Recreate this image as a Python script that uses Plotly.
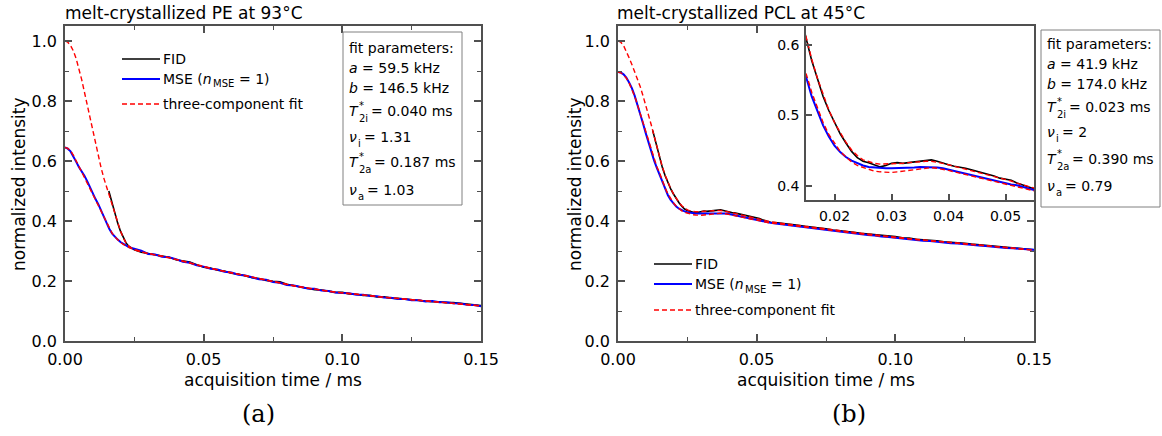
import plotly.graph_objects as go

# ---------------- data: panel (a) melt-crystallized PE ----------------
t_pe_early = [round(i * 0.001, 4) for i in range(26)]                 # 0 ... 0.025
t_pe_tail = [round(0.025 + 0.0025 * i, 4) for i in range(1, 51)]      # 0.0275 ... 0.15
t_pe = t_pe_early + t_pe_tail

pe_fit_fid_early = [1.000, 0.996, 0.985, 0.967, 0.942, 0.910, 0.872, 0.830, 0.786, 0.742,
                    0.699, 0.657, 0.616, 0.578, 0.543, 0.513, 0.484, 0.455, 0.425, 0.395,
                    0.367, 0.344, 0.327, 0.316, 0.309, 0.304]
pe_mse_early = [0.645, 0.641, 0.632, 0.617, 0.598, 0.580, 0.566, 0.551, 0.533, 0.512,
                0.493, 0.473, 0.456, 0.436, 0.413, 0.391, 0.373, 0.358, 0.347, 0.338,
                0.330, 0.324, 0.318, 0.313, 0.310, 0.307]
pe_fit_mse_early = [0.645, 0.642, 0.634, 0.620, 0.601, 0.582, 0.565, 0.548, 0.530, 0.511,
                    0.492, 0.472, 0.453, 0.433, 0.412, 0.392, 0.374, 0.359, 0.347, 0.337,
                    0.329, 0.322, 0.316, 0.312, 0.308, 0.305]
pe_fid_t_start = [0.0158]
pe_fid_early = [0.500, 0.458, 0.424, 0.393, 0.366, 0.344, 0.327, 0.316, 0.309, 0.304]  # 0.0158, 0.017..0.025

pe_fit_tail = [0.297, 0.291, 0.287, 0.283, 0.278, 0.272, 0.266, 0.260, 0.253, 0.247,
               0.242, 0.237, 0.232, 0.227, 0.222, 0.217, 0.212, 0.207, 0.203, 0.198,
               0.193, 0.188, 0.184, 0.180, 0.176, 0.173, 0.169, 0.166, 0.163, 0.161,
               0.158, 0.155, 0.153, 0.151, 0.148, 0.146, 0.143, 0.141, 0.139, 0.137,
               0.135, 0.133, 0.1315, 0.130, 0.1285, 0.127, 0.1245, 0.122, 0.1195, 0.117]
pe_fid_tail = [0.296, 0.292, 0.289, 0.285, 0.279, 0.271, 0.268, 0.263, 0.254, 0.246,
               0.243, 0.236, 0.233, 0.226, 0.223, 0.216, 0.211, 0.208, 0.202, 0.199,
               0.197, 0.189, 0.185, 0.179, 0.177, 0.171, 0.170, 0.167, 0.162, 0.162,
               0.157, 0.156, 0.152, 0.152, 0.147, 0.147, 0.143, 0.142, 0.140, 0.138,
               0.134, 0.134, 0.131, 0.131, 0.128, 0.128, 0.125, 0.123, 0.119, 0.118]
pe_mse_tail = [0.301, 0.290, 0.288, 0.281, 0.279, 0.273, 0.264, 0.261, 0.252, 0.248,
               0.241, 0.238, 0.231, 0.228, 0.221, 0.218, 0.211, 0.206, 0.204, 0.197,
               0.194, 0.187, 0.185, 0.181, 0.175, 0.174, 0.168, 0.167, 0.162, 0.160,
               0.159, 0.154, 0.154, 0.150, 0.149, 0.145, 0.144, 0.140, 0.140, 0.136,
               0.136, 0.132, 0.133, 0.129, 0.129, 0.126, 0.125, 0.121, 0.120, 0.116]

# ---------------- data: panel (b) melt-crystallized PCL ----------------
t_pcl_early = [round(i * 0.001, 4) for i in range(56)]                # 0 ... 0.055
t_pcl_tail = [round(0.055 + 0.0025 * i, 4) for i in range(1, 39)]     # 0.0575 ... 0.15
t_pcl = t_pcl_early + t_pcl_tail

pcl_fit_fid_early = [1.000, 0.996, 0.985, 0.966, 0.944, 0.922, 0.899, 0.875, 0.848, 0.818,
                     0.787, 0.754, 0.720, 0.684, 0.647, 0.612, 0.580, 0.553, 0.529, 0.508,
                     0.490, 0.475, 0.462, 0.451, 0.443, 0.437, 0.434, 0.432, 0.431, 0.431,
                     0.431, 0.432, 0.432, 0.433, 0.434, 0.435, 0.435, 0.435, 0.434, 0.432,
                     0.430, 0.428, 0.426, 0.424, 0.422, 0.420, 0.418, 0.416, 0.414, 0.411,
                     0.409, 0.407, 0.404, 0.402, 0.399, 0.397]
pcl_mse_early = [0.897, 0.895, 0.889, 0.878, 0.862, 0.843, 0.818, 0.789, 0.758, 0.726,
                 0.693, 0.661, 0.630, 0.602, 0.577, 0.555, 0.527, 0.505, 0.486, 0.470,
                 0.457, 0.448, 0.441, 0.436, 0.432, 0.429, 0.427, 0.426, 0.425, 0.425,
                 0.425, 0.425, 0.425, 0.426, 0.426, 0.427, 0.427, 0.427, 0.426, 0.425,
                 0.423, 0.421, 0.420, 0.418, 0.416, 0.414, 0.412, 0.410, 0.407, 0.405,
                 0.403, 0.402, 0.401, 0.399, 0.397, 0.394]
pcl_fit_mse_early = [0.897, 0.894, 0.887, 0.876, 0.860, 0.840, 0.816, 0.788, 0.758, 0.727,
                     0.695, 0.664, 0.634, 0.606, 0.581, 0.560, 0.533, 0.510, 0.490, 0.473,
                     0.460, 0.449, 0.441, 0.434, 0.429, 0.426, 0.423, 0.421, 0.420, 0.419,
                     0.419, 0.420, 0.421, 0.422, 0.424, 0.425, 0.426, 0.426, 0.425, 0.424,
                     0.422, 0.420, 0.418, 0.416, 0.414, 0.413, 0.411, 0.409, 0.407, 0.405,
                     0.403, 0.401, 0.399, 0.397, 0.395, 0.393]
pcl_fid_t_start = [0.0125]
pcl_fid_early = [0.702,
                 0.683, 0.648, 0.610, 0.578, 0.551, 0.527, 0.507, 0.490, 0.474, 0.461,
                 0.449, 0.440, 0.435, 0.433, 0.430, 0.427, 0.429, 0.432, 0.433, 0.432,
                 0.433, 0.434, 0.434, 0.436, 0.437, 0.435, 0.432, 0.430, 0.428, 0.427,
                 0.425, 0.423, 0.421, 0.419, 0.417, 0.414, 0.411, 0.409, 0.408, 0.404,
                 0.401, 0.399, 0.396]   # 0.0125, 0.013..0.055

pcl_fid_tail = [0.394, 0.392, 0.388, 0.386, 0.382, 0.380, 0.376, 0.374, 0.370, 0.368,
                0.364, 0.362, 0.359, 0.357, 0.354, 0.352, 0.349, 0.348, 0.344, 0.343,
                0.339, 0.338, 0.335, 0.334, 0.331, 0.330, 0.327, 0.326, 0.323, 0.321,
                0.319, 0.318, 0.315, 0.313, 0.311, 0.310, 0.307, 0.304]
pcl_mse_tail = [0.391, 0.388, 0.386, 0.382, 0.380, 0.376, 0.374, 0.370, 0.368, 0.364,
                0.362, 0.358, 0.357, 0.353, 0.352, 0.348, 0.347, 0.344, 0.342, 0.339,
                0.337, 0.334, 0.333, 0.330, 0.329, 0.326, 0.325, 0.322, 0.321, 0.318,
                0.317, 0.314, 0.313, 0.310, 0.309, 0.307, 0.306, 0.304]
pcl_fit_fid_tail = [0.394, 0.391, 0.388, 0.385, 0.382, 0.379, 0.376, 0.373, 0.370, 0.367,
                    0.364, 0.361, 0.358, 0.356, 0.353, 0.351, 0.349, 0.346, 0.344, 0.341,
                    0.339, 0.337, 0.335, 0.332, 0.330, 0.328, 0.326, 0.324, 0.322, 0.320,
                    0.318, 0.316, 0.314, 0.312, 0.310, 0.308, 0.306, 0.303]
pcl_fit_mse_tail = [0.391, 0.388, 0.385, 0.382, 0.380, 0.377, 0.374, 0.371, 0.368, 0.365,
                    0.362, 0.359, 0.357, 0.354, 0.352, 0.349, 0.347, 0.345, 0.342, 0.340,
                    0.338, 0.335, 0.333, 0.331, 0.329, 0.327, 0.325, 0.323, 0.321, 0.319,
                    0.317, 0.315, 0.313, 0.311, 0.309, 0.307, 0.305, 0.303]

# fit-parameter box texts: (symbol, stacked super/subscript, value text)
params_pe = [("fit parameters:", None, None), ("<i>a</i> = 59.5 kHz", None, None),
             ("<i>b</i> = 146.5 kHz", None, None), ("<i>T</i>", "*<br>2i", "= 0.040 ms"),
             ("<i>ν</i>", "i", "= 1.31"), ("<i>T</i>", "*<br>2a", "= 0.187 ms"),
             ("<i>ν</i>", "a", "= 1.03")]
params_pcl = [("fit parameters:", None, None), ("<i>a</i> = 41.9 kHz", None, None),
              ("<i>b</i> = 174.0 kHz", None, None), ("<i>T</i>", "*<br>2i", "= 0.023 ms"),
              ("<i>ν</i>", "i", "= 2"), ("<i>T</i>", "*<br>2a", "= 0.390 ms"),
              ("<i>ν</i>", "a", "= 0.79")]
legend_labels = ["FID", "MSE (<i>n</i>", "three-component fit"]
legend_sub = "MSE"
legend_tail = "= 1)"

# ---------------- figure ----------------
W, H = 1162, 436
FONT = "DejaVu Sans"
AX = "#505050"
BLACK, BLUE, RED = "#000000", "#0000ff", "#ff0000"
DASH = "5px,3px"


def px(x):
    return x / W


def py(y):
    return 1 - y / H


fig = go.Figure()


def add_panel(xa, ya, t_grid, t_fid, fid, mse, fit_fid, fit_mse):
    fig.add_trace(go.Scatter(x=t_fid, y=fid, mode="lines", name="FID",
                             line=dict(color=BLACK, width=1.6), xaxis=xa, yaxis=ya))
    fig.add_trace(go.Scatter(x=t_grid, y=mse, mode="lines", name="MSE (n_MSE = 1)",
                             line=dict(color=BLUE, width=2), xaxis=xa, yaxis=ya))
    fig.add_trace(go.Scatter(x=t_grid, y=fit_fid, mode="lines", name="three-component fit",
                             line=dict(color=RED, width=1.4, dash=DASH), xaxis=xa, yaxis=ya))
    fig.add_trace(go.Scatter(x=t_grid, y=fit_mse, mode="lines", name="three-component fit",
                             line=dict(color=RED, width=1.4, dash=DASH), xaxis=xa, yaxis=ya))


pe_t_fid = pe_fid_t_start + t_pe_early[17:] + t_pe_tail
pe_fid = pe_fid_early + pe_fid_tail
add_panel("x", "y", t_pe, pe_t_fid, pe_fid,
          pe_mse_early + pe_mse_tail,
          pe_fit_fid_early + pe_fit_tail,
          pe_fit_mse_early + pe_fit_tail)

pcl_t_fid = pcl_fid_t_start + t_pcl_early[13:] + t_pcl_tail
pcl_fid = pcl_fid_early + pcl_fid_tail
for xa, ya in (("x2", "y2"), ("x3", "y3")):   # main panel (b) and its inset
    add_panel(xa, ya, t_pcl, pcl_t_fid, pcl_fid,
              pcl_mse_early + pcl_mse_tail,
              pcl_fit_fid_early + pcl_fit_fid_tail,
              pcl_fit_mse_early + pcl_fit_mse_tail)

tickfont = dict(family=FONT, size=16, color="black")
common = dict(showline=True, linecolor=AX, linewidth=1.5, mirror="ticks",
              ticks="inside", ticklen=7, tickwidth=1.5, tickcolor=AX, automargin=False,
              showgrid=False, zeroline=False, tickfont=tickfont, ticklabelstandoff=3)
xmain = dict(common, range=[0, 0.15], tick0=0, dtick=0.05, tickformat=".2f",
             minor=dict(ticks="inside", ticklen=4, tickwidth=1.2, tickcolor=AX, dtick=0.025))
ymain = dict(common, range=[0, 1.05], tick0=0, dtick=0.2, tickformat=".1f",
             minor=dict(ticks="inside", ticklen=4, tickwidth=1.2, tickcolor=AX, dtick=0.1))
inset = dict(showline=True, linecolor=AX, linewidth=1.5, mirror=True, automargin=False,
             ticks="inside", ticklen=6, tickwidth=1.5, tickcolor=AX,
             showgrid=False, zeroline=False, tickfont=dict(family=FONT, size=14, color="black"),
             ticklabelstandoff=2)

fig.update_layout(
    width=W, height=H, margin=dict(l=0, r=0, t=0, b=0, autoexpand=False),
    paper_bgcolor="white", plot_bgcolor="white", showlegend=False,
    font=dict(family=FONT, color="black"),
    xaxis=dict(xmain, domain=[px(65), px(481)], anchor="y"),
    yaxis=dict(ymain, domain=[py(341), py(26)], anchor="x"),
    xaxis2=dict(xmain, domain=[px(618), px(1034)], anchor="y2"),
    yaxis2=dict(ymain, domain=[py(341), py(26)], anchor="x2"),
    xaxis3=dict(inset, range=[0.015, 0.055], tick0=0, dtick=0.01, tickformat=".2f",
                domain=[px(806), px(1034)], anchor="y3"),
    yaxis3=dict(inset, range=[0.38, 0.627], tick0=0, dtick=0.1, tickformat=".1f",
                domain=[py(200), py(26)], anchor="x3"),
)

ann = []
shapes = []


def text(t, x, y, size, xanchor="left", family=FONT, angle=0):
    ann.append(dict(text=t, x=px(x), y=py(y), xref="paper", yref="paper",
                    xanchor=xanchor, yanchor="middle", showarrow=False, textangle=angle,
                    align="left", borderpad=0, borderwidth=0,
                    font=dict(family=family, size=size, color="black")))


# panel titles
text("melt-crystallized PE at 93°C", 65, 13, 17)
text("melt-crystallized PCL at 45°C", 617, 13, 17)
# axis titles
for cx in (273, 826):
    text("acquisition time / ms", cx, 380, 17, xanchor="center")
for cx in (19, 575):
    text("normalized intensity", cx, 184, 17, xanchor="center", angle=-90)
# sub-figure labels
text("(a)", 258, 414, 24, xanchor="center", family="DejaVu Serif")
text("(b)", 849, 414, 24, xanchor="center", family="DejaVu Serif")

# legends (line samples + labels)
for (lx0, lx1, tx, rows) in ((122, 160, 163, (59, 79, 104)),
                             (654, 692, 695, (264, 284, 310))):
    styles = [dict(color=BLACK, width=1.6), dict(color=BLUE, width=2),
              dict(color=RED, width=1.4, dash=DASH)]
    for st, ry, lab in zip(styles, rows, legend_labels):
        shapes.append(dict(type="line", xref="paper", yref="paper",
                           x0=px(lx0), x1=px(lx1), y0=py(ry), y1=py(ry), line=st))
        text(lab, tx, ry, 14)
    text(legend_sub, tx + 50, rows[1] + 5, 10)
    text(legend_tail, tx + 76, rows[1], 14)

# fit-parameter boxes: frame + text pieces
# x offsets (from the box's left edge) of the stacked index and of the value text
offsets = {"*<br>2i": (15.5, 28), "*<br>2a": (15.5, 31), "i": (15, 21), "a": (15, 24)}
for (x0, y0, x1, y1, lines, rows) in (
        (343, 32, 462, 205, params_pe, (48, 68, 88, 111, 137, 162, 190)),
        (1041, 30, 1160, 207, params_pcl, (44, 64, 84, 107, 132, 159, 186))):
    shapes.append(dict(type="rect", xref="paper", yref="paper",
                       x0=px(x0), x1=px(x1), y0=py(y1), y1=py(y0),
                       line=dict(color="#808080", width=1), fillcolor="white", layer="above"))
    for (sym, idx, val), ry in zip(lines, rows):
        text(sym, x0 + 6, ry, 14)
        if idx:
            dx_idx, dx_val = offsets[idx]
            if "<br>" in idx:
                text(idx, x0 + dx_idx, ry + 1, 10)
            else:
                text(idx, x0 + dx_idx, ry + 6, 10)
            text(val, x0 + dx_val, ry, 14)

fig.update_layout(annotations=ann, shapes=shapes)

fig.write_html("out.html")
